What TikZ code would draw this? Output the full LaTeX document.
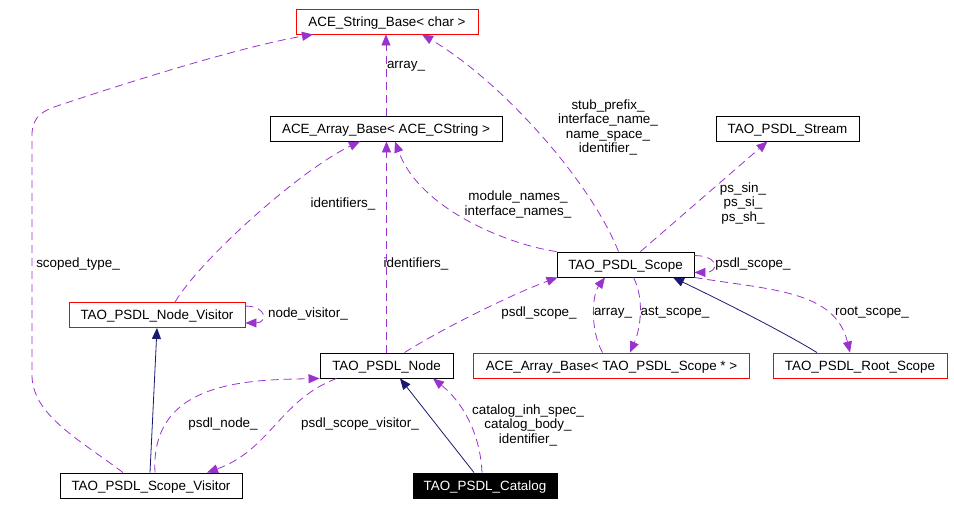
\documentclass[tikz,border=0pt]{standalone}
\usepackage{fontspec}
\setmainfont{Liberation Sans}
\usetikzlibrary{arrows.meta}
\definecolor{usepurple}{RGB}{154,50,205}
\definecolor{inhnavy}{RGB}{25,25,112}
\tikzset{class node/.style={rectangle,draw,line width=0.9pt,minimum height=25pt,inner sep=0pt,text height=9.6pt,text depth=0pt,font=\fontsize{13.4}{15}\selectfont},
  red node/.style={class node,draw=red},
  usage edge/.style={usepurple,line width=0.8pt,dash pattern=on 8pt off 5pt,-{Triangle[length=11pt,width=9pt]}},
  inherit edge/.style={inhnavy,line width=0.8pt,-{Triangle[length=11pt,width=9pt]}},
  role text/.style={align=center,inner sep=0pt,font=\fontsize{13.4}{14.5}\selectfont},}

\begin{document}
\begin{tikzpicture}[x=1pt,y=-1pt]
          \useasboundingbox (0,0) rectangle (954,506);

          \node[red node,minimum width=182pt] (strbase) at (387,21.5) {ACE\_String\_Base< char >};
          \node[class node,minimum width=232pt] (arrcstr) at (386,128.5) {ACE\_Array\_Base< ACE\_CString >};
          \node[class node,minimum width=143pt] (stream) at (787.5,128.5) {TAO\_PSDL\_Stream};
          \node[class node,minimum width=137pt] (scope) at (625.5,264.5) {TAO\_PSDL\_Scope};
          \node[red node,minimum width=176pt] (nodevis) at (157,315) {TAO\_PSDL\_Node\_Visitor};
          \node[class node,minimum width=133pt] (node) at (386.5,365.5) {TAO\_PSDL\_Node};
          \node[red node,minimum width=276pt] (arrscope) at (611.5,365.5) {ACE\_Array\_Base< TAO\_PSDL\_Scope * >};
          \node[red node,minimum width=174pt] (rootscope) at (860,365.5) {TAO\_PSDL\_Root\_Scope};
          \node[class node,minimum width=182pt] (scopevis) at (151,485.5) {TAO\_PSDL\_Scope\_Visitor};
          \node[class node,minimum width=144pt,fill=black,text=white] (catalog) at (485,485.5) {TAO\_PSDL\_Catalog};

          % usage
          \draw[usage edge] ([xshift=-28pt]scopevis.north) .. controls (80,440) and (32,415) .. (32,375)
            -- (32,135) .. controls (32,115) and (45,110) .. (60,105) .. controls (150,75) and (250,45) .. ([xshift=-74pt]strbase.south);
          \draw[usage edge] (arrcstr.north) -- (arrcstr.north |- strbase.south);
          \draw[usage edge] ([xshift=-7pt]scope.north) .. controls (590,180) and (500,80) .. ([xshift=35pt]strbase.south);
          \draw[usage edge] ([xshift=18pt]nodevis.north) .. controls (200,260) and (300,170) .. ([xshift=-26pt]arrcstr.south);
          \draw[usage edge] (node.north) -- (node.north |- arrcstr.south);
          \draw[usage edge] (scope.north west) .. controls (510,245) and (420,210) .. ([xshift=9pt]arrcstr.south);
          \draw[usage edge] ([xshift=15pt]scope.north) -- ([xshift=-20pt]stream.south);
          \draw[usage edge] ([yshift=-4pt]scope.north east) .. controls +(25,0) and +(25,0) .. ([yshift=5pt]scope.south east);
          \draw[usage edge] ([xshift=18pt]node.north) .. controls (440,330) and (510,295) .. ([xshift=1pt]scope.south west);
          \draw[usage edge] ([xshift=-9pt]arrscope.north) .. controls (590,330) and (592,295) .. ([xshift=-20.5pt]scope.south);
          \draw[usage edge] ([xshift=8pt]scope.south) .. controls (645,300) and (640,330) .. ([xshift=18.5pt]arrscope.north);
          \draw[usage edge] (scope.south east) .. controls (770,290) and (835,290) .. ([xshift=-10pt]rootscope.north);
          \draw[usage edge] ([yshift=-4pt]nodevis.north east) .. controls +(22,0) and +(22,0) .. ([yshift=5pt]nodevis.south east);
          \draw[usage edge] ([xshift=4pt]scopevis.north) .. controls (150,380) and (250,380) .. (node.south west);
          \draw[usage edge] ([xshift=-50pt]node.south) .. controls (280,400) and (270,450) .. ([xshift=56pt]scopevis.north);
          \draw[usage edge] ([xshift=-3pt]catalog.north) .. controls (480,430) and (460,400) .. ([xshift=46.5pt]node.south);

          % inheritance
          \draw[inherit edge] ([xshift=-43pt]rootscope.north) .. controls (780,330) and (720,300) .. ([xshift=47.5pt]scope.south);
          \draw[inherit edge] ([xshift=-1pt]scopevis.north) -- (nodevis.south);
          \draw[inherit edge] ([xshift=-11pt]catalog.north) -- ([xshift=13.5pt]node.south);

          % roles
          \node[role text] (tscoped) at (78,264) {scoped\_type\_};
          \node[role text] (tarray) at (406,66) {array\_};
          \node[role text] (tstub) at (608,127.5) {stub\_prefix\_\\interface\_name\_\\name\_space\_\\identifier\_};
          \node[role text] (tident) at (343,204) {identifiers\_};
          \node[role text] (tidentb) at (416,264) {identifiers\_};
          \node[role text] (tmodule) at (518,204.5) {module\_names\_\\interface\_names\_};
          \node[role text] (tps) at (743,203.5) {ps\_sin\_\\ps\_si\_\\ps\_sh\_};
          \node[role text] (tselfscope) at (753,264) {psdl\_scope\_};
          \node[role text] (tscopenode) at (539,313) {psdl\_scope\_};
          \node[role text] (tarrayb) at (613,313) {array\_};
          \node[role text] (tast) at (675,313) {ast\_scope\_};
          \node[role text] (troot) at (872,313) {root\_scope\_};
          \node[role text] (tvisitor) at (308,314) {node\_visitor\_};
          \node[role text] (tnode) at (223,424) {psdl\_node\_};
          \node[role text] (tscopevis) at (360,424) {psdl\_scope\_visitor\_};
          \node[role text] (tcatalog) at (528,425) {catalog\_inh\_spec\_\\catalog\_body\_\\identifier\_};
        \end{tikzpicture}
\end{document}
